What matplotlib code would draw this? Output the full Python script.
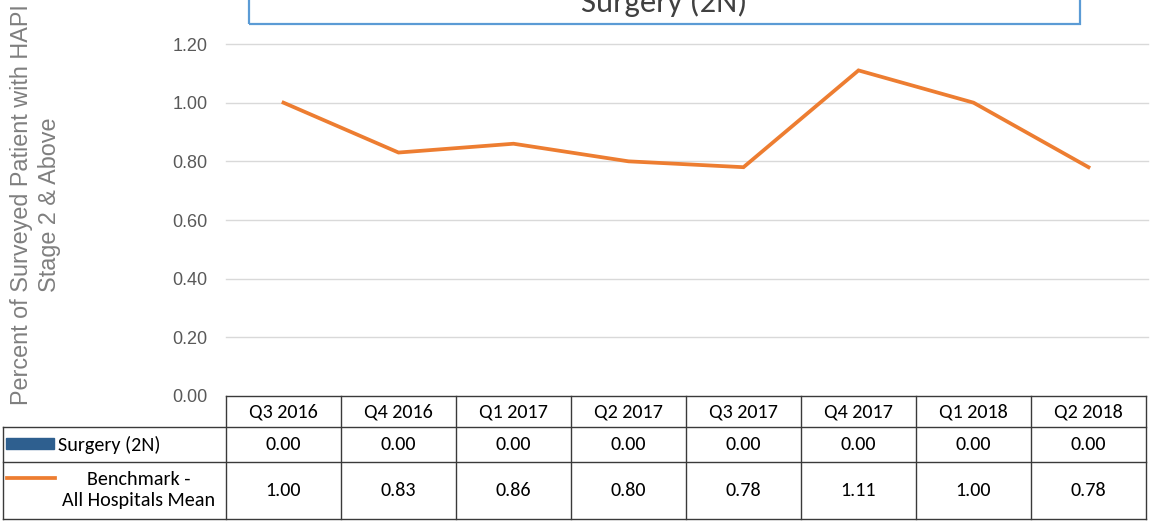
import matplotlib.pyplot as plt
from matplotlib.patches import Rectangle
from matplotlib.lines import Line2D

# --- Data ---
quarters = ["Q3 2016", "Q4 2016", "Q1 2017", "Q2 2017",
            "Q3 2017", "Q4 2017", "Q1 2018", "Q2 2018"]
surgery_2n = [0.00, 0.00, 0.00, 0.00, 0.00, 0.00, 0.00, 0.00]
benchmark = [1.00, 0.83, 0.86, 0.80, 0.78, 1.11, 1.00, 0.78]
yticks = [0.00, 0.20, 0.40, 0.60, 0.80, 1.00, 1.20]

W, H = 1152, 523
TABLE_FONT = ["Carlito", "Lato", "DejaVu Sans"]
ORANGE = "#ED7D31"
BLUE = "#2E5F8F"
TFS = 14.5

fig = plt.figure(figsize=(W / 100, H / 100), dpi=100)

def fx(px):
    return px / W

def fy(py):
    return 1 - py / H

# plot area: x 226..1146 px, y 0 (top) .. 396 px (zero line)
left, right, zero_y = 226, 1146, 396
ax = fig.add_axes([fx(left), fy(zero_y), fx(right - left), zero_y / H])
n = len(quarters)
ax.set_xlim(-0.5, n - 0.5)
ax.set_ylim(0, 1.35)
ax.set_yticks(yticks)
ax.set_yticklabels([f"{v:.2f}" for v in yticks])
ax.set_xticks([])
for s in ax.spines.values():
    s.set_visible(False)
ax.tick_params(axis="y", length=0, pad=13.5, labelsize=13, labelcolor="#595959")
for lab in ax.get_yticklabels():
    lab.set_family("Liberation Sans")
for v in yticks[1:]:
    ax.axhline(v, color="#D9D9D9", lw=1.0, zorder=0, xmax=1.002, clip_on=False)

ax.bar(range(n), surgery_2n, width=0.5, color=BLUE)
ax.plot(range(n), benchmark, color=ORANGE, lw=2.7, solid_joinstyle="miter")

# y label
fig.text(fx(22), fy(205), "Percent of Surveyed Patient with HAPI", rotation=90,
         ha="center", va="center", fontsize=16.8, color="#7F7F7F", family="Liberation Sans")
fig.text(fx(50), fy(205), "Stage 2 & Above", rotation=90,
         ha="center", va="center", fontsize=16.8, color="#7F7F7F", family="Liberation Sans")

# title box (cut off at the top, as in the source)
fig.patches.append(Rectangle((fx(249), fy(24)), fx(1080 - 249), 24 / H + 0.05,
                             transform=fig.transFigure, fill=False,
                             edgecolor="#5B9BD5", lw=1.6))
fig.text(fx(664), fy(12), "Surgery (2N)", ha="center", va="baseline",
         fontsize=23.5, color="#404040", family=TABLE_FONT)

# data table
rows = [396, 427, 462, 519]
col_w = (right - left) / n
cols = [left + i * col_w for i in range(n + 1)]
lc = "#3A3A3A"

def hline(x0, x1, y):
    fig.add_artist(Line2D([fx(x0), fx(x1)], [fy(y), fy(y)], color=lc, lw=1.0))

def vline(x, y0, y1):
    fig.add_artist(Line2D([fx(x), fx(x)], [fy(y0), fy(y1)], color=lc, lw=1.0))

hline(left, right, rows[0])
for y in rows[1:]:
    hline(3, right, y)
for x in cols:
    vline(x, rows[0], rows[3])
vline(3, rows[1], rows[3])

for i, q in enumerate(quarters):
    cx = (cols[i] + cols[i + 1]) / 2
    fig.text(fx(cx), fy((rows[0] + rows[1]) / 2), q, ha="center", va="center",
             fontsize=TFS, family=TABLE_FONT, color="black")
    fig.text(fx(cx), fy((rows[1] + rows[2]) / 2), f"{surgery_2n[i]:.2f}", ha="center",
             va="center", fontsize=TFS, family=TABLE_FONT, color="black")
    fig.text(fx(cx), fy((rows[2] + rows[3]) / 2), f"{benchmark[i]:.2f}", ha="center",
             va="center", fontsize=TFS, family=TABLE_FONT, color="black")

# legend keys in the table
fig.patches.append(Rectangle((fx(6), fy(449)), fx(48), 11 / H,
                             transform=fig.transFigure, color=BLUE))
fig.text(fx(58), fy((rows[1] + rows[2]) / 2), "Surgery (2N)", ha="left", va="center",
         fontsize=TFS, family=TABLE_FONT, color="black")
fig.add_artist(Line2D([fx(7), fx(55)], [fy(478), fy(478)], color=ORANGE, lw=2.7))
fig.text(fx(139), fy(490), "Benchmark -\nAll Hospitals Mean", ha="center", va="center",
         fontsize=TFS, family=TABLE_FONT, color="black", linespacing=1.3)

fig.savefig("out.png", dpi=100)
